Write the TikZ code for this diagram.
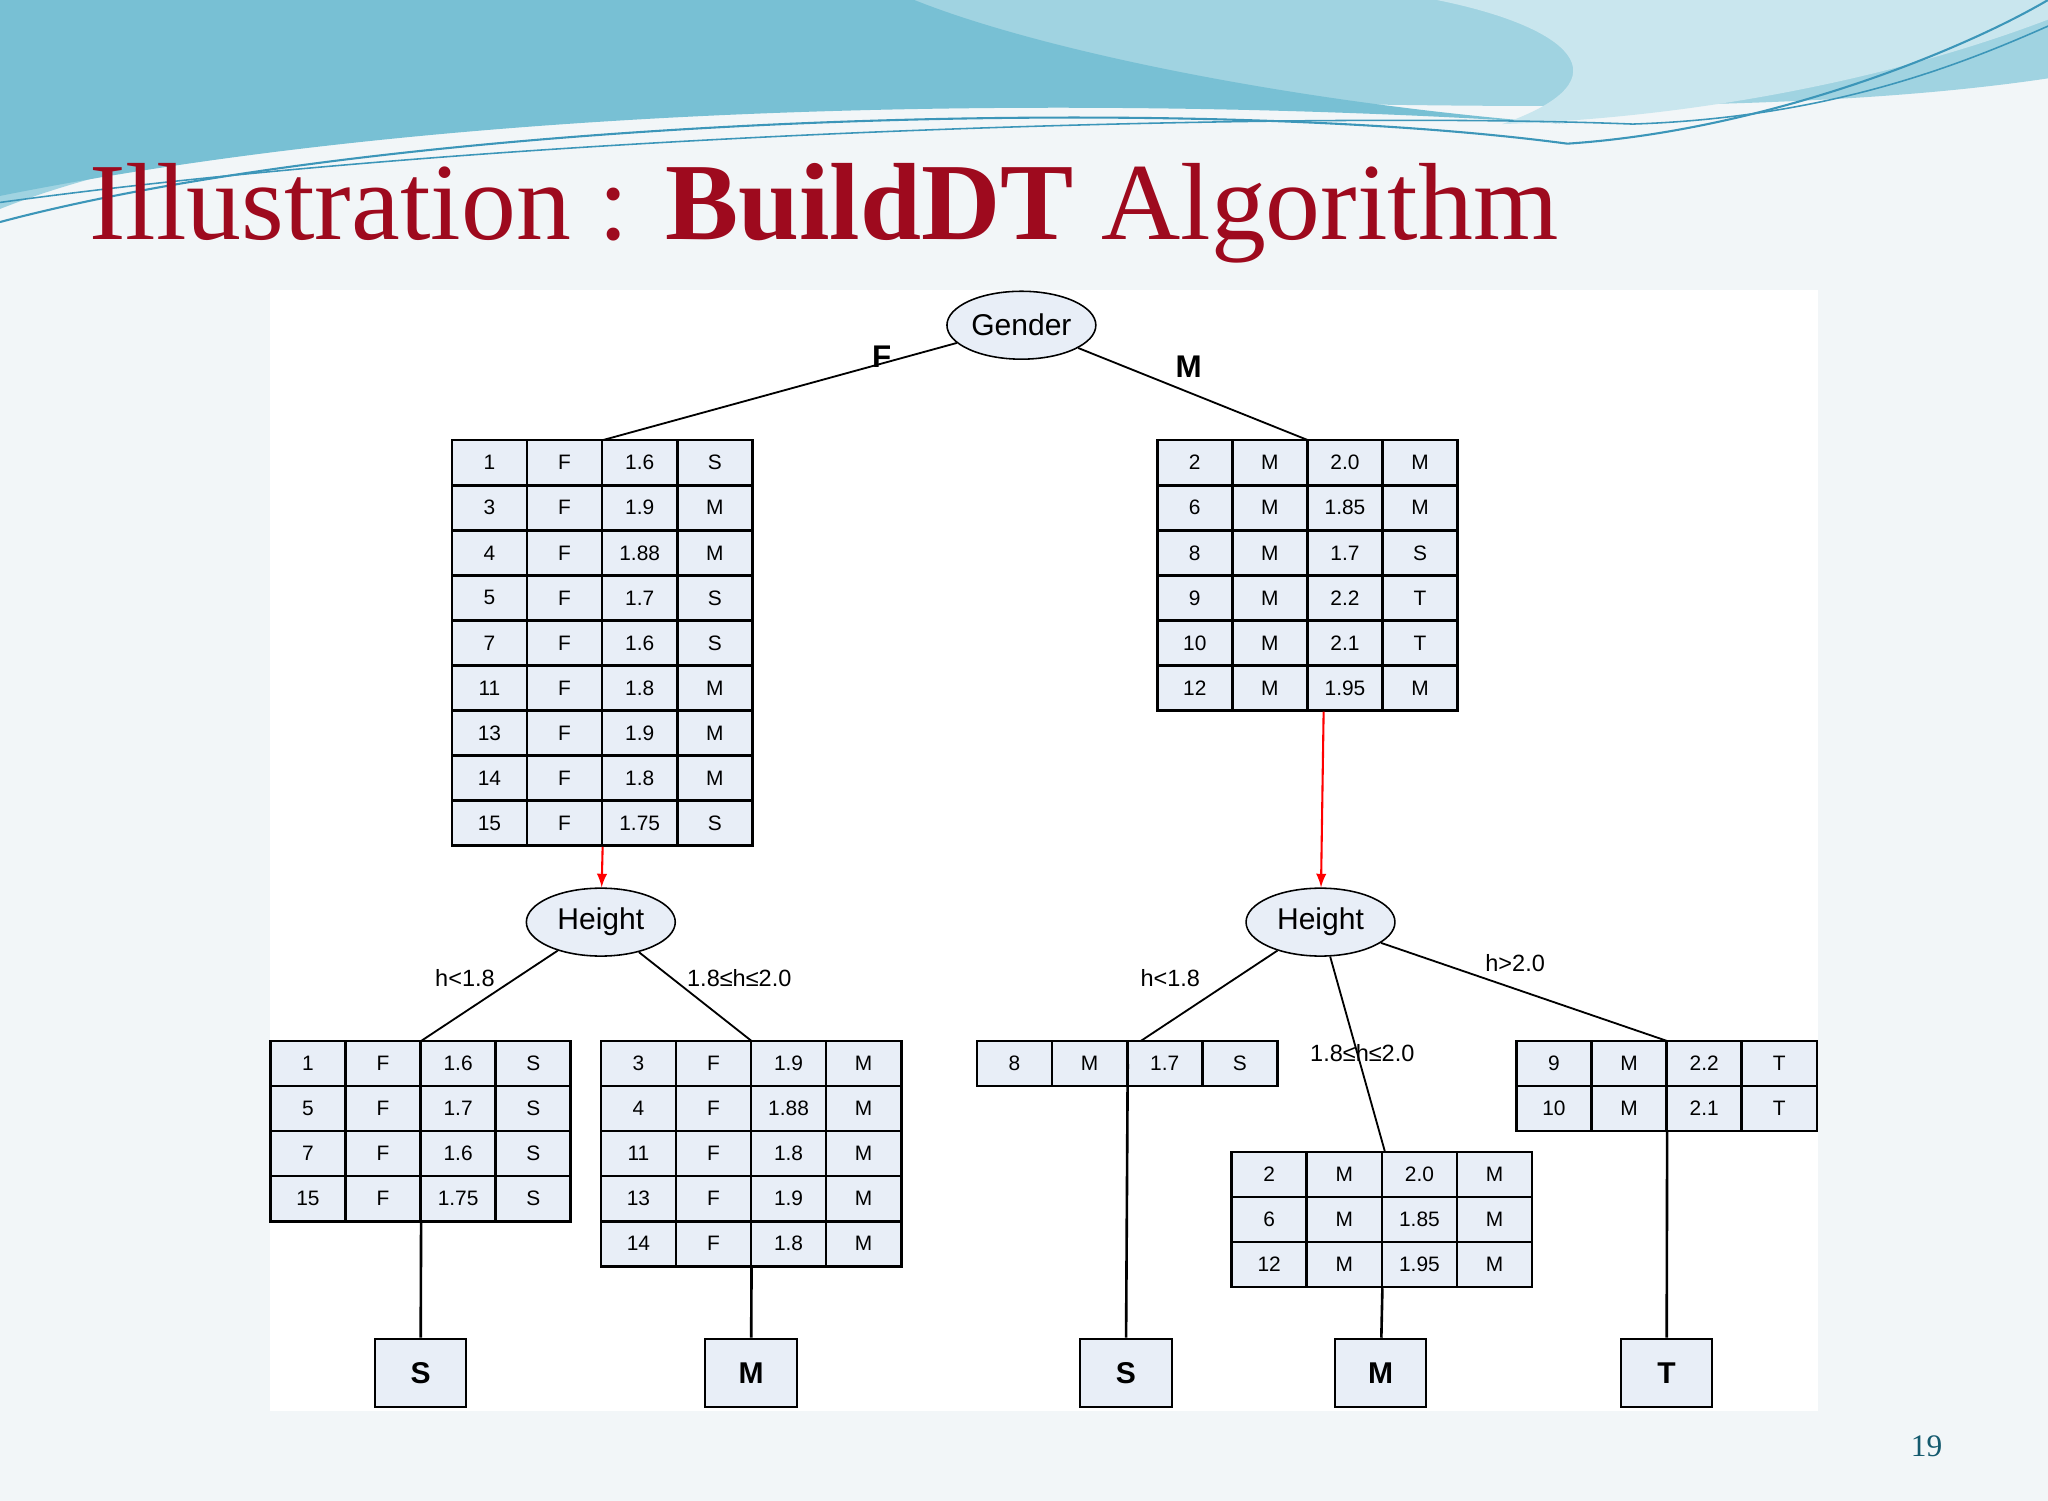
\documentclass[tikz,border=0pt]{standalone}
\usepackage{fontspec}
\setmainfont{Liberation Serif}
\setsansfont{Liberation Sans}
\usetikzlibrary{shapes.geometric,calc}
\definecolor{cellfill}{RGB}{232, 238, 247}
\definecolor{titlered}{RGB}{158, 10, 30}
\definecolor{wave}{RGB}{120, 192, 212}
\definecolor{wavedark}{RGB}{60, 150, 185}
\definecolor{slidebg}{RGB}{242, 246, 248}
\definecolor{numteal}{RGB}{20, 90, 110}
\tikzset{
  cell/.style={draw=black, line width=1pt, fill=cellfill, minimum width=28.75pt,
    minimum height=17.25pt, inner sep=0pt, font=\sffamily\fontsize{8}{8}\selectfont},
  test/.style={ellipse, draw=black, line width=0.6pt, fill=cellfill, minimum width=57pt,
    minimum height=26pt, inner sep=0pt, font=\sffamily\fontsize{11.5}{12}\selectfont},
  leaf/.style={draw=black, line width=0.8pt, fill=cellfill, minimum width=35pt,
    minimum height=26pt, inner sep=0pt, font=\sffamily\bfseries\fontsize{11.5}{12}\selectfont},
  branch/.style={font=\sffamily\fontsize{9}{10}\selectfont},
  edge/.style={line width=0.7pt}
}
% table: name, left x, top y, rows, data
\newcommand{\dttable}[5]{%
  \node[minimum width=115pt, minimum height=#4*17.25pt, inner sep=0pt, anchor=north west] (#1) at (#2,-#3) {};
  \foreach \a/\b/\c/\d [count=\i] in {#5} {
    \node[cell] at (#2+28.75, -#3-17.25-34.5*\i+34.5) {\a};
    \node[cell] at (#2+86.25, -#3-17.25-34.5*\i+34.5) {\b};
    \node[cell] at (#2+143.75, -#3-17.25-34.5*\i+34.5) {\c};
    \node[cell] at (#2+201.25, -#3-17.25-34.5*\i+34.5) {\d};
  }%
}
\begin{document}
\begin{tikzpicture}[x=0.5pt, y=0.5pt]
\useasboundingbox (0,0) rectangle (1568,-1149);
\fill[slidebg] (0,0) rectangle (1568,-1149);
% header waves
\fill[wave!70] (0,0) -- (1568,0) -- (1568,-60) .. controls (1300,-100) and (900,-70) .. (600,-75)
  .. controls (300,-80) and (100,-120) .. (0,-160) -- cycle;
\fill[wave] (0,0) -- (700,0) .. controls (800,-40) and (1000,-80) .. (1200,-95)
  .. controls (900,-75) and (400,-70) .. (0,-150) -- cycle;
\fill[wave!40] (1100,0) -- (1568,0) -- (1568,-15) .. controls (1450,-60) and (1300,-90) .. (1150,-95)
  .. controls (1250,-60) and (1200,-20) .. (1100,0) -- cycle;
\draw[wavedark, line width=0.8pt] (0,-170) .. controls (300,-90) and (900,-70) .. (1200,-110)
  .. controls (1350,-100) and (1500,-40) .. (1568,0);
\draw[wavedark, line width=0.6pt] (0,-155) .. controls (400,-100) and (1000,-85) .. (1250,-95)
  .. controls (1400,-90) and (1500,-50) .. (1568,-20);
% title
\node[anchor=base west, inner sep=0pt, text=titlered, font=\fontsize{42}{46}\selectfont]
  (title) at (68,-183) {Illustration : \textbf{BuildDT} Algorithm};
\node[text=numteal, font=\fontsize{12}{12}\selectfont] (page) at (1475,-1107) {19};
% diagram panel
\fill[white] (207,-222) rectangle (1392,-1080);
\node[test] (gender) at (782,-249) {Gender};
\dttable{tf}{346}{337}{9}{1/F/1.6/S,3/F/1.9/M,4/F/1.88/M,5/F/1.7/S,7/F/1.6/S,11/F/1.8/M,13/F/1.9/M,14/F/1.8/M,15/F/1.75/S}
\dttable{tm}{886}{337}{6}{2/M/2.0/M,6/M/1.85/M,8/M/1.7/S,9/M/2.2/T,10/M/2.1/T,12/M/1.95/M}
\node[test] (hl) at (460,-706) {Height};
\node[test] (hr) at (1011,-706) {Height};
\dttable{ll}{207}{797}{4}{1/F/1.6/S,5/F/1.7/S,7/F/1.6/S,15/F/1.75/S}
\dttable{lr}{460}{797}{5}{3/F/1.9/M,4/F/1.88/M,11/F/1.8/M,13/F/1.9/M,14/F/1.8/M}
\dttable{rl}{748}{797}{1}{8/M/1.7/S}
\dttable{rm}{943}{882}{3}{2/M/2.0/M,6/M/1.85/M,12/M/1.95/M}
\dttable{rr}{1161}{797}{2}{9/M/2.2/T,10/M/2.1/T}
\node[leaf] (s1) at (322,-1051) {S};
\node[leaf] (m1) at (575,-1051) {M};
\node[leaf] (s2) at (862,-1051) {S};
\node[leaf] (m2) at (1057,-1051) {M};
\node[leaf] (t1) at (1276,-1051) {T};
% edges
\draw[edge] (gender) -- (tf.north);
\draw[edge] (gender) -- (tm.north);
\node[font=\sffamily\bfseries\fontsize{12}{12}\selectfont] (lf) at (675,-273) {F};
\node[font=\sffamily\bfseries\fontsize{12}{12}\selectfont] (lm) at (910,-281) {M};
\draw[red, line width=0.8pt, -latex] (tf.south) -- (hl);
\draw[red, line width=0.8pt, -latex] ($(tm.south)+(12,0)$) -- (hr);
\draw[edge] (hl) -- (ll.north);
\draw[edge] (hl) -- (lr.north);
\node[branch] (b1) at (356,-749) {h<1.8};
\node[branch] (b2) at (566,-749) {1.8≤h≤2.0};
\draw[edge] (hr) -- ($(rl.north)+(10,0)$);
\draw[edge] (hr) -- ($(rm.north)+(2,0)$);
\draw[edge] (hr) -- (rr.north);
\node[branch] (b3) at (896,-749) {h<1.8};
\node[branch] (b4) at (1043,-806) {1.8≤h≤2.0};
\node[branch] (b5) at (1160,-737) {h>2.0};
\draw[edge, line width=1pt] (ll.south) -- (s1);
\draw[edge, line width=1pt] (lr.south) -- (m1);
\draw[edge, line width=1pt] (rl.center) -- (s2);
\draw[edge, line width=1pt] (rm.south) -- (m2);
\draw[edge, line width=1pt] (rr.south) -- (t1);
\end{tikzpicture}
\end{document}
